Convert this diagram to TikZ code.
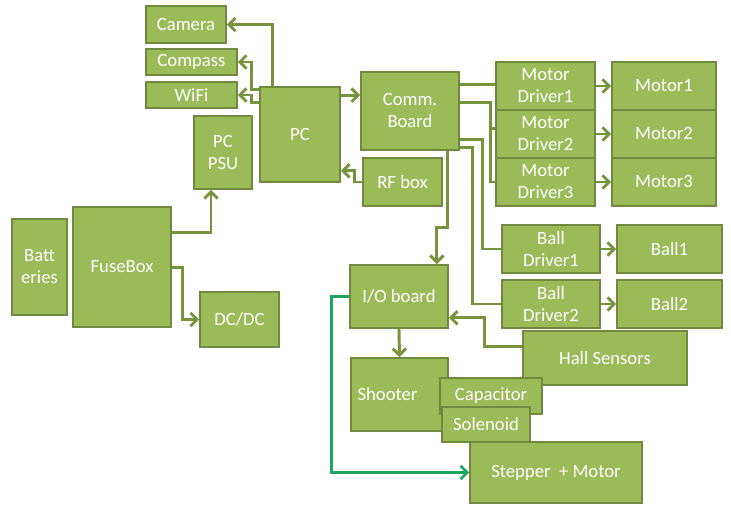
\documentclass[tikz,border=0pt]{standalone}
\usepackage{fontspec}
\setmainfont{Carlito}
\usetikzlibrary{fit,arrows.meta}
\definecolor{boxfill}{HTML}{9BBB59}
\definecolor{boxline}{HTML}{71893F}
\definecolor{wire}{HTML}{77933C}
\definecolor{gwire}{HTML}{1FA55E}
\begin{document}
\begin{tikzpicture}[x=0.75pt,y=-0.75pt,
  box/.style={draw=boxline,fill=boxfill,line width=1.2pt,inner sep=0pt},
  lbl/.style={text=white,align=center,inner sep=0pt,font=\fontsize{14}{16.5}\selectfont},
  ln/.style={draw=wire,line width=2.2pt},
  arr/.style={ln,-{Straight Barb[length=5pt,width=10pt,line width=2.2pt]}},
  garr/.style={draw=gwire,line width=2pt,-{Straight Barb[length=5pt,width=10pt,line width=2pt]}}]
\useasboundingbox (0,0) rectangle (731,509);
\newcommand\bx[6]{\node[box,fit={(#2,#3)(#4,#5)}] (#1) {};
  \node[lbl] at (#1.center) {#6};}
\bx{Cam}{146}{6}{226}{43}{Camera}
\bx{Comp}{146}{49}{237}{75}{Compass}
\bx{WiFi}{146}{82}{237}{108}{WiFi}
\bx{PSU}{194}{116}{252}{189}{PC\\PSU}
\bx{PC}{260}{87}{340}{182}{PC}
\bx{Comm}{361}{72}{459}{150}{Comm.\\Board}
\bx{RF}{363}{158}{442}{206}{RF box}
\bx{MDa}{496}{62}{595}{110}{Motor\\Driver1}
\bx{MDb}{496}{110}{595}{158}{Motor\\Driver2}
\bx{MDc}{496}{158}{595}{206}{Motor\\Driver3}
\bx{Ma}{612}{62}{716}{110}{Motor1}
\bx{Mb}{612}{110}{716}{158}{Motor2}
\bx{Mc}{612}{158}{716}{206}{Motor3}
\bx{BDa}{502}{225}{600}{273}{Ball\\Driver1}
\bx{BDb}{502}{280}{600}{328}{Ball\\Driver2}
\bx{Ba}{617}{225}{722}{273}{Ball1}
\bx{Bb}{617}{280}{722}{328}{Ball2}
\bx{Bat}{12}{219}{67}{315}{Batt\\eries}
\bx{FB}{73}{207}{171}{327}{FuseBox}
\bx{DC}{200}{292}{279}{347}{DC/DC}
\bx{IO}{350}{265}{448}{328}{I/O board}
\bx{Hall}{523}{331}{687}{385}{Hall Sensors}
\bx{Sh}{351}{358}{448}{431}{\hspace*{-18pt}Shooter}
\bx{Cap}{440}{378}{542}{414}{Capacitor}
\bx{Sol}{442}{407}{530}{442}{Solenoid}
\bx{Step}{470}{442}{642}{503}{Stepper\ \ + Motor}
% PC outputs
\draw[arr] (PC.north west) ++(13,0) |- (Cam.east);
\draw[arr] (PC.north west) ++(0,3) -- ++(-8,0) |- (Comp.east);
\draw[arr] (PC.north west) ++(0,16) -- ++(-8,0) |- (WiFi.east);
\path (PC.north east) ++(0,9) coordinate (p1);
\draw[arr] (p1) -- (p1 -| Comm.west);
\path (PC.south east) ++(0,-12) coordinate (p2);
\draw[arr] (RF.west) -- ++(-8,0) |- (p2);
% power
\path (FB.north east) ++(0,26) coordinate (p3);
\draw[arr] (p3) -| ([xshift=-9pt]PSU.south);
\path (FB.north east) ++(0,61) coordinate (p4);
\draw[arr] (p4) -- ++(11,0) |- (DC.west);
% comm board
\path (Comm.north east) ++(0,13) coordinate (p5);
\draw[ln] (p5) -- (p5 -| MDa.west);
\path (Comm.north east) ++(0,31) coordinate (p6);
\draw[ln] (p6) -- ++(31,0) coordinate (j) |- (MDc.west);
\draw[ln] (j) |- ([yshift=4pt]MDb.west);
\path (Comm.north east) ++(0,68) coordinate (p7);
\draw[ln] (p7) -- ++(23,0) |- (BDa.west);
\path (Comm.north east) ++(0,76) coordinate (p8);
\draw[ln] (p8) -- ++(13,0) |- (BDb.west);
\path (Comm.south west) ++(87,0) coordinate (p9);
\path (IO.north east) ++(-12,0) coordinate (p10);
\draw[arr] (p9) -- ++(0,77) -| (p10);
% drivers
\draw[arr] (MDa.east) -- (Ma.west);
\draw[arr] (MDb.east) -- (Mb.west);
\draw[arr] (MDc.east) -- (Mc.west);
\draw[arr] (BDa.east) -- (Ba.west);
\draw[arr] (BDb.east) -- (Bb.west);
% io
\path (IO.south east) ++(0,-11) coordinate (p11);
\draw[arr] (Hall.north west) ++(0,16) -- ++(-38,0) |- (p11);
\draw[arr] (IO.south) -- (Sh.north);
\draw[garr] (IO.west) -- ++(-18,0) |- (Step.west);
\end{tikzpicture}
\end{document}
